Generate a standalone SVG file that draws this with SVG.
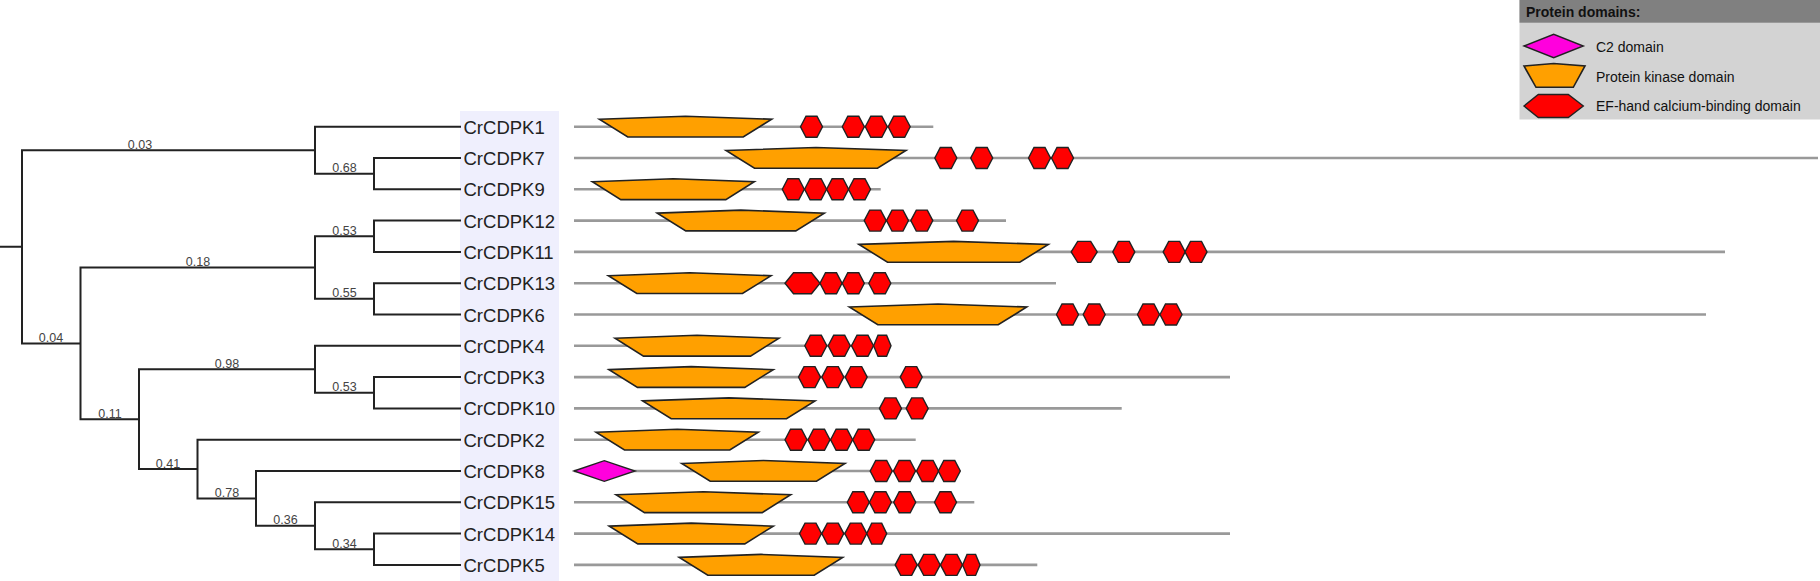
<svg xmlns="http://www.w3.org/2000/svg" xmlns:xlink="http://www.w3.org/1999/xlink" width="1820" height="581" viewBox="0 0 1820 581">
<style>
.tree{fill:none;stroke:#222;stroke-width:2;stroke-linecap:square}
.bl{font-family:"Liberation Sans",Arial,sans-serif;font-size:12.5px;fill:#444;text-anchor:middle}
.leaf{font-family:"Liberation Sans",Arial,sans-serif;font-size:18.5px;fill:#222}
.bb{stroke:#999;stroke-width:2.6;fill:none}
.pk{fill:#ffa000;stroke:#222;stroke-width:1.6;stroke-linejoin:miter}
.ef{fill:#ff0000;stroke:#222;stroke-width:1.4}
.c2{fill:#f0d;stroke:#222;stroke-width:1.4}
.lg{font-family:"Liberation Sans",Arial,sans-serif;font-size:14px;fill:#111}
.lgh{font-family:"Liberation Sans",Arial,sans-serif;font-size:14px;font-weight:bold;fill:#111}
</style>
<defs>
<polygon id="hex" class="ef" points="-11,0 -5.5,-10.5 5.5,-10.5 11,0 5.5,10.5 -5.5,10.5"/>
<polygon id="hex26" class="ef" points="-13,0 -6.5,-10.5 6.5,-10.5 13,0 6.5,10.5 -6.5,10.5"/>
<polygon id="hex35" class="ef" points="-17.5,0 -9,-10.5 9,-10.5 17.5,0 9,10.5 -9,10.5"/>
<polygon id="hex17" class="ef" points="-8.7,0 -4.3,-10.5 4.3,-10.5 8.7,0 4.3,10.5 -4.3,10.5"/>
<polygon id="hex20" class="ef" points="-10,0 -5,-10.5 5,-10.5 10,0 5,10.5 -5,10.5"/>
</defs>
<rect width="1820" height="581" fill="#ffffff"/>
<rect x="460" y="111" width="99" height="470" fill="#efeffd"/>

<g id="connectors">
<path class="tree" d="M0 246.8H22 M22 150.2V343.4 M22 150.2H315 M315 126.7V173.65 M315 126.7H460 M315 173.65H374 M374 158V189.3 M374 158H460 M374 189.3H460 M22 343.4H80.5 M80.5 267.55V419.2 M80.5 267.55H315 M315 236.25V298.85 M315 236.25H374 M374 220.6V251.9 M374 220.6H460 M374 251.9H460 M315 298.85H374 M374 283.2V314.5 M374 283.2H460 M374 314.5H460 M80.5 419.2H139 M139 369.3V469.05 M139 369.3H315 M315 345.8V392.75 M315 345.8H460 M315 392.75H374 M374 377.1V408.4 M374 377.1H460 M374 408.4H460 M139 469.05H197.5 M197.5 439.7V498.4 M197.5 439.7H460 M197.5 498.4H256 M256 471V525.8 M256 471H460 M256 525.8H315 M315 502.3V549.25 M315 502.3H460 M315 549.25H374 M374 533.6V564.9 M374 533.6H460 M374 564.9H460"/>
<g id="branch-labels">
<text class="bl" x="140" y="148.8">0.03</text>
<text class="bl" x="344.5" y="172.2">0.68</text>
<text class="bl" x="198" y="266.1">0.18</text>
<text class="bl" x="344.5" y="234.8">0.53</text>
<text class="bl" x="344.5" y="297.4">0.55</text>
<text class="bl" x="51" y="342">0.04</text>
<text class="bl" x="227" y="367.9">0.98</text>
<text class="bl" x="344.5" y="391.3">0.53</text>
<text class="bl" x="110" y="417.8">0.11</text>
<text class="bl" x="168" y="467.6">0.41</text>
<text class="bl" x="227" y="497">0.78</text>
<text class="bl" x="285.5" y="524.4">0.36</text>
<text class="bl" x="344.5" y="547.8">0.34</text>
</g>
</g>

<g id="CrCDPK1">
<text class="leaf" x="463.5" y="133.7">CrCDPK1</text>
<line class="bb" x1="574" y1="126.7" x2="933.3" y2="126.7"/>
<polygon class="pk" points="599.3,119.2 685.5,116.2 771.7,119.2 743.2,137 627.8,137"/>
<use href="#hex" x="811.5" y="126.7"/><use href="#hex" x="853.3" y="126.7"/><use href="#hex" x="876.3" y="126.7"/><use href="#hex" x="899.2" y="126.7"/>
</g>
<g id="CrCDPK7">
<text class="leaf" x="463.5" y="165">CrCDPK7</text>
<line class="bb" x1="574" y1="158" x2="1818" y2="158"/>
<polygon class="pk" points="726,150.5 816,147.5 906,150.5 877.5,168.3 754.5,168.3"/>
<use href="#hex" x="945.8" y="158"/><use href="#hex" x="981.7" y="158"/><use href="#hex" x="1039.5" y="158"/><use href="#hex" x="1062.5" y="158"/>
</g>
<g id="CrCDPK9">
<text class="leaf" x="463.5" y="196.3">CrCDPK9</text>
<line class="bb" x1="574" y1="189.3" x2="880.7" y2="189.3"/>
<polygon class="pk" points="592.3,181.8 673.3,178.8 754.3,181.8 725.8,199.6 620.8,199.6"/>
<use href="#hex" x="793.3" y="189.3"/><use href="#hex" x="815.6" y="189.3"/><use href="#hex" x="837.6" y="189.3"/><use href="#hex" x="859.5" y="189.3"/>
</g>
<g id="CrCDPK12">
<text class="leaf" x="463.5" y="227.6">CrCDPK12</text>
<line class="bb" x1="574" y1="220.6" x2="1006" y2="220.6"/>
<polygon class="pk" points="657.3,213.1 740.8,210.1 824.3,213.1 795.8,230.9 685.8,230.9"/>
<use href="#hex" x="875.2" y="220.6"/><use href="#hex" x="897.5" y="220.6"/><use href="#hex" x="921.8" y="220.6"/><use href="#hex" x="967.5" y="220.6"/>
</g>
<g id="CrCDPK11">
<text class="leaf" x="463.5" y="258.9">CrCDPK11</text>
<line class="bb" x1="574" y1="251.9" x2="1725" y2="251.9"/>
<polygon class="pk" points="859,244.4 953.7,241.4 1048.3,244.4 1019.8,262.2 887.5,262.2"/>
<use href="#hex26" x="1084.2" y="251.9"/><use href="#hex" x="1123.8" y="251.9"/><use href="#hex" x="1174.2" y="251.9"/><use href="#hex" x="1196" y="251.9"/>
</g>
<g id="CrCDPK13">
<text class="leaf" x="463.5" y="290.2">CrCDPK13</text>
<line class="bb" x1="574" y1="283.2" x2="1056" y2="283.2"/>
<polygon class="pk" points="608.3,275.7 689.7,272.7 771,275.7 742.5,293.5 636.8,293.5"/>
<use href="#hex35" x="802.5" y="283.2"/><use href="#hex" x="831" y="283.2"/><use href="#hex" x="853.3" y="283.2"/><use href="#hex" x="879.8" y="283.2"/>
</g>
<g id="CrCDPK6">
<text class="leaf" x="463.5" y="321.5">CrCDPK6</text>
<line class="bb" x1="574" y1="314.5" x2="1706" y2="314.5"/>
<polygon class="pk" points="849.3,307 938,304 1026.7,307 998.2,324.8 877.8,324.8"/>
<use href="#hex" x="1067.5" y="314.5"/><use href="#hex" x="1094.2" y="314.5"/><use href="#hex" x="1148.5" y="314.5"/><use href="#hex" x="1171" y="314.5"/>
</g>
<g id="CrCDPK4">
<text class="leaf" x="463.5" y="352.8">CrCDPK4</text>
<line class="bb" x1="574" y1="345.8" x2="891" y2="345.8"/>
<polygon class="pk" points="615,338.3 697,335.3 779,338.3 750.5,356.1 643.5,356.1"/>
<use href="#hex" x="815.8" y="345.8"/><use href="#hex" x="839.2" y="345.8"/><use href="#hex" x="862.5" y="345.8"/><use href="#hex17" x="882.3" y="345.8"/>
</g>
<g id="CrCDPK3">
<text class="leaf" x="463.5" y="384.1">CrCDPK3</text>
<line class="bb" x1="574" y1="377.1" x2="1230" y2="377.1"/>
<polygon class="pk" points="609,369.6 691.2,366.6 773.3,369.6 744.8,387.4 637.5,387.4"/>
<use href="#hex" x="809.5" y="377.1"/><use href="#hex" x="832.8" y="377.1"/><use href="#hex" x="856.2" y="377.1"/><use href="#hex" x="911.2" y="377.1"/>
</g>
<g id="CrCDPK10">
<text class="leaf" x="463.5" y="415.4">CrCDPK10</text>
<line class="bb" x1="574" y1="408.4" x2="1121.7" y2="408.4"/>
<polygon class="pk" points="642.7,400.9 728.9,397.9 815,400.9 786.5,418.7 671.2,418.7"/>
<use href="#hex" x="890.5" y="408.4"/><use href="#hex" x="917.2" y="408.4"/>
</g>
<g id="CrCDPK2">
<text class="leaf" x="463.5" y="446.7">CrCDPK2</text>
<line class="bb" x1="574" y1="439.7" x2="915.7" y2="439.7"/>
<polygon class="pk" points="596,432.2 677.2,429.2 758.3,432.2 729.8,450 624.5,450"/>
<use href="#hex" x="796" y="439.7"/><use href="#hex" x="819" y="439.7"/><use href="#hex" x="841.6" y="439.7"/><use href="#hex" x="863.7" y="439.7"/>
</g>
<g id="CrCDPK8">
<text class="leaf" x="463.5" y="478">CrCDPK8</text>
<line class="bb" x1="574" y1="471" x2="960" y2="471"/>
<polygon class="c2" points="574,471 604.3,460.7 635,471 604.3,481.3"/>
<polygon class="pk" points="681.7,463.5 763.4,460.5 845,463.5 816.5,481.3 710.2,481.3"/>
<use href="#hex" x="881.2" y="471"/><use href="#hex" x="904.5" y="471"/><use href="#hex" x="927.6" y="471"/><use href="#hex" x="949.3" y="471"/>
</g>
<g id="CrCDPK15">
<text class="leaf" x="463.5" y="509.3">CrCDPK15</text>
<line class="bb" x1="574" y1="502.3" x2="974.3" y2="502.3"/>
<polygon class="pk" points="616,494.8 703.4,491.8 790.7,494.8 762.2,512.6 644.5,512.6"/>
<use href="#hex" x="858.3" y="502.3"/><use href="#hex" x="880.4" y="502.3"/><use href="#hex" x="904.7" y="502.3"/><use href="#hex" x="945.5" y="502.3"/>
</g>
<g id="CrCDPK14">
<text class="leaf" x="463.5" y="540.6">CrCDPK14</text>
<line class="bb" x1="574" y1="533.6" x2="1230" y2="533.6"/>
<polygon class="pk" points="609.3,526.1 691.3,523.1 773.3,526.1 744.8,543.9 637.8,543.9"/>
<use href="#hex" x="810.5" y="533.6"/><use href="#hex" x="832.8" y="533.6"/><use href="#hex" x="855.8" y="533.6"/><use href="#hex20" x="876.7" y="533.6"/>
</g>
<g id="CrCDPK5">
<text class="leaf" x="463.5" y="571.9">CrCDPK5</text>
<line class="bb" x1="574" y1="564.9" x2="1037.3" y2="564.9"/>
<polygon class="pk" points="679.3,557.4 761,554.4 842.7,557.4 814.2,575.2 707.8,575.2"/>
<use href="#hex" x="906.2" y="564.9"/><use href="#hex" x="929.2" y="564.9"/><use href="#hex" x="951.5" y="564.9"/><use href="#hex17" x="971.3" y="564.9"/>
</g>

<g id="legend">
<rect x="1519.5" y="0" width="300.5" height="119.5" fill="#d3d3d3"/>
<rect x="1519.5" y="0" width="300.5" height="22.7" fill="#808080"/>
<text class="lgh" x="1526" y="17">Protein domains:</text>
<polygon class="c2" points="1524,46 1553.7,34.3 1583.3,46 1553.7,57.7"/>
<text class="lg" x="1596" y="51.5">C2 domain</text>
<polygon class="pk" points="1524,66 1553.7,63.5 1585,66 1573.3,87.3 1536,87.3"/>
<text class="lg" x="1596" y="81.5">Protein kinase domain</text>
<polygon class="ef" points="1524,106 1538.3,94.5 1568.3,94.5 1583.3,106 1568.3,117.5 1538.3,117.5"/>
<text class="lg" x="1596" y="111">EF-hand calcium-binding domain</text>
</g>
</svg>
